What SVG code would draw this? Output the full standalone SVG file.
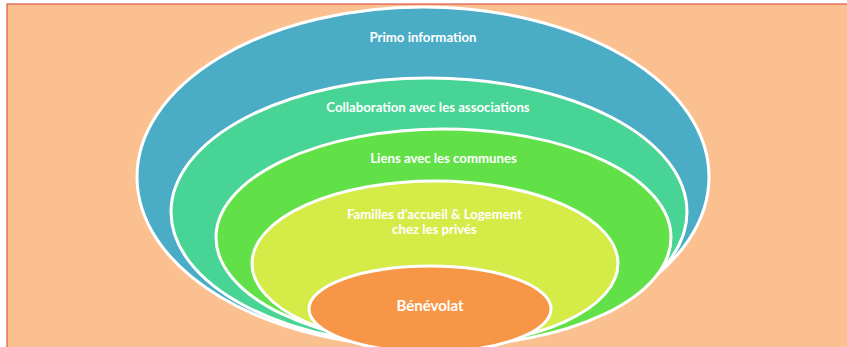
<svg xmlns="http://www.w3.org/2000/svg" width="847" height="347" viewBox="0 0 847 347">
<style>
.ring{stroke:#ffffff;stroke-width:3}
.lbl{font-family:Lato,"Liberation Sans",sans-serif;font-weight:bold;fill:#ffffff;text-anchor:middle;font-size:13.2px}
</style>
<rect x="0" y="0" width="847" height="347" fill="#ffffff"/>
<rect x="7" y="4" width="850" height="350" fill="#FAC090" stroke="#E0584A" stroke-width="1.2"/>
<g id="primo">
<ellipse class="ring" cx="423" cy="177" rx="286" ry="170" fill="#4BACC6"/>
<text class="lbl" x="423" y="42">Primo information</text>
</g>
<g id="collaboration">
<ellipse class="ring" cx="429" cy="212" rx="258" ry="134" fill="#48D494"/>
<text class="lbl" x="428" y="112">Collaboration avec les associations</text>
</g>
<g id="liens">
<ellipse class="ring" cx="443.5" cy="237.5" rx="227.5" ry="108.5" fill="#61E147"/>
<text class="lbl" x="443.5" y="163">Liens avec les communes</text>
</g>
<g id="familles">
<ellipse class="ring" cx="435" cy="263.5" rx="183" ry="82.5" fill="#D5EB47"/>
<text class="lbl" x="434.5" y="219">Familles d'accueil &amp; Logement</text>
<text class="lbl" x="434.5" y="234">chez les privés</text>
</g>
<g id="benevolat">
<ellipse class="ring" cx="430" cy="309" rx="121" ry="43" fill="#F79646"/>
<text class="lbl" x="430" y="311" style="font-size:15px">Bénévolat</text>
</g>
</svg>
